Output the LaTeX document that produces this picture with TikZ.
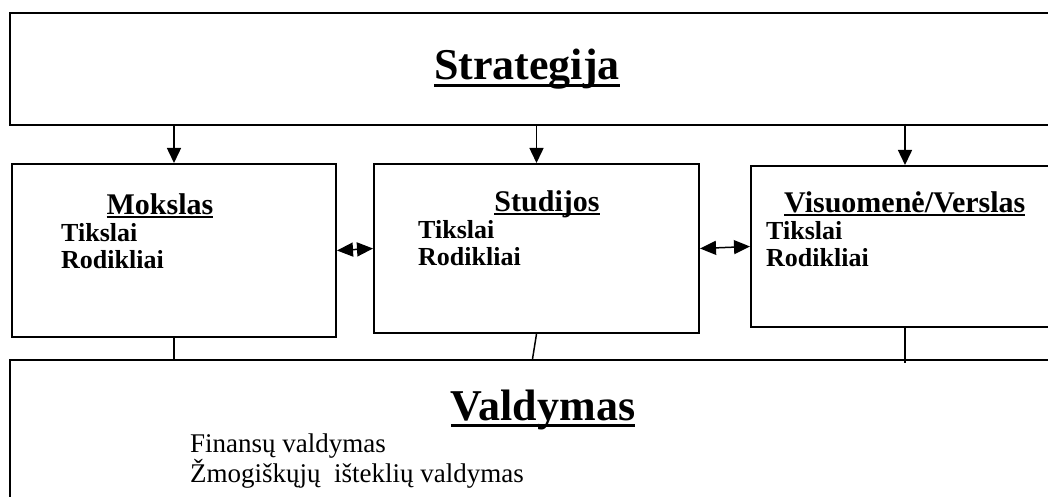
\documentclass[tikz,border=0pt]{standalone}
\usepackage{fontspec}
\setmainfont{Liberation Serif}
\usetikzlibrary{arrows.meta, positioning}

% thick underline: #1 raise, #2 thickness, #3 text
\newcommand\headul[3]{\setbox0\hbox{#3}\rlap{\copy0}\rule[#1]{\wd0}{#2}}

\begin{document}
\begin{tikzpicture}[
  x=1pt, y=-1pt,
  panel/.style={
    rectangle,
    draw=black,
    line width=2pt,
    inner sep=0pt
  },
  title/.style={font=\fontsize{44}{50}\selectfont\bfseries, inner sep=0pt},
  head/.style={font=\fontsize{30}{34}\selectfont\bfseries, inner sep=0pt},
  sub/.style={font=\fontsize{26}{30}\selectfont\bfseries, inner sep=0pt},
  body/.style={font=\fontsize{27}{30}\selectfont, inner sep=0pt},
  arrow/.style={-{Triangle[length=15pt,width=14pt]}, line width=1.5pt},
  both/.style={{Triangle[length=16pt,width=14pt]}-{Triangle[length=16pt,width=14pt]}, line width=1.5pt},
  link/.style={line width=1.5pt}
]
  \fill[white] (0,0) rectangle (1048,497);
  \useasboundingbox (0,0) rectangle (1048,497);

  % Boxes
  \node[panel, minimum width=1050pt, minimum height=112pt] (strat) at (535,69) {};
  \node[panel, minimum width=324pt, minimum height=173pt] (mok) at (174,250.5) {};
  \node[panel, minimum width=325pt, minimum height=169pt] (stu) at (536.5,248.5) {};
  \node[panel, minimum width=308pt, minimum height=161pt] (vis) at (905,246.5) {};
  \node[panel, minimum width=1060pt, minimum height=160pt] (vald) at (540,440) {};

  % Headings
  \node[title, anchor=base] (stratT) at (527,80) {\headul{-7pt}{3pt}{Strategija}};
  \node[head, anchor=base] (mokH) at (160,214) {\headul{-4pt}{2pt}{Mokslas}};
  \node[head, anchor=base] (stuH) at (547,211) {\headul{-4pt}{2pt}{Studijos}};
  \node[head, anchor=base west] (visH) at (784,212) {\headul{-4pt}{2pt}{Visuomenė/Verslas}};
  \node[title, anchor=base] (valdT) at (543,420) {\headul{-7pt}{3pt}{Valdymas}};

  % Goals and indicators
  \node[sub, anchor=base west] (mokT) at (61,241) {Tikslai};
  \node[sub, anchor=base west] (mokR) at (61,268) {Rodikliai};
  \node[sub, anchor=base west] (stuT) at (418,238) {Tikslai};
  \node[sub, anchor=base west] (stuR) at (418,265) {Rodikliai};
  \node[sub, anchor=base west] (visT) at (766,239) {Tikslai};
  \node[sub, anchor=base west] (visR) at (766,266) {Rodikliai};

  % Management
  \node[body, anchor=base west] (fin) at (190,452) {Finansų valdymas};
  \node[body, anchor=base west] (hr) at (190,482) {Žmogiškųjų \ išteklių valdymas};

  % Connections
  \draw[arrow] (mok.north |- strat.south) -- (mok.north);
  \draw[arrow] (stu.north |- strat.south) -- (stu.north);
  \draw[arrow] ([yshift=2pt]vis.north |- strat.south) -- (vis.north);
  \draw[both] (mok.east) -- (stu.west);
  \draw[both] (stu.east) -- (vis.west);
  \draw[link] (mok.south) -- (mok.south |- vald.north);
  \draw[link] (stu.south) -- ([xshift=-4pt]stu.south |- vald.north);
  \draw[link] (vis.south) -- ([yshift=-4pt]vis.south |- vald.north);
\end{tikzpicture}
\end{document}
